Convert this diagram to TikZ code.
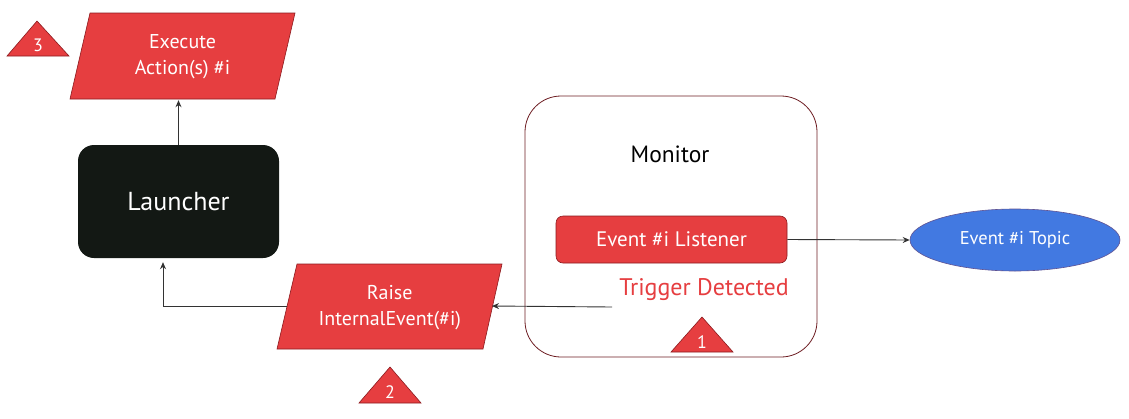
\documentclass[tikz,border=0pt]{standalone}
\usepackage{fontspec}
\setmainfont{PT Sans}
\usetikzlibrary{shapes.geometric,arrows.meta,calc}
\definecolor{rd}{HTML}{E63E40}
\definecolor{rdline}{HTML}{8B1A1E}
\definecolor{bl}{HTML}{4279E1}
\definecolor{dk}{HTML}{131814}
\definecolor{mon}{HTML}{6E1E23}
\definecolor{ln}{HTML}{333333}
\begin{document}
\begin{tikzpicture}[x=1pt,y=-1pt,
  arr/.style={draw=ln, line width=0.9pt, -{Stealth[length=7pt,width=6pt]}},
  para/.style={fill=rd, draw=rdline, line width=0.6pt},
  holder/.style={rectangle, inner sep=0pt, text=white, align=center, font=\fontsize{20}{26}\selectfont},
  tri/.style={fill=rd, draw=rdline, line width=0.6pt},
  trilabel/.style={text=white, font=\fontsize{18}{20}\selectfont, inner sep=0pt}]
\useasboundingbox (0,0) rectangle (1129,418);

% Execute parallelogram
\draw[para] (90,13) -- (295,13) -- (275,99) -- (70,99) -- cycle;
\node[holder, minimum width=205pt, minimum height=86pt] (exec) at (182.5,57) {Execute\\Action(s) \#i};

% triangle 3
\draw[tri] (37,21) -- (69,56) -- (7,56) -- cycle;
\node[trilabel] (t3) at (38,45) {3};

% Launcher
\node[rectangle, rounded corners=16pt, fill=dk, minimum width=201pt, minimum height=113pt, text=white, font=\fontsize{26}{30}\selectfont] (launch) at (178.5,201.5) {Launcher};

% Raise parallelogram
\draw[para] (297,264) -- (502,264) -- (483,349) -- (277,349) -- cycle;
\node[holder, minimum width=206pt, minimum height=85pt] (raise) at (389.75,308) {Raise\\InternalEvent(\#i)};
\coordinate (raiseR) at (492,306);
\coordinate (raiseL) at (287,306);

% triangle 2
\draw[tri] (390,367) -- (421,403) -- (359,403) -- cycle;
\node[trilabel] (t2) at (390,392) {2};

% Monitor
\node[rectangle, rounded corners=36pt, draw=mon, line width=0.8pt, fill=white, minimum width=292pt, minimum height=261pt] (mon) at (671,226.5) {};
\node[font=\fontsize{23.5}{26}\selectfont, text=black] (montxt) at (670,154) {Monitor};
\node[rectangle, rounded corners=7pt, fill=rd, draw=rdline, line width=0.6pt, minimum width=231pt, minimum height=47pt, text=white, font=\fontsize{21}{24}\selectfont] (listen) at (671.5,239.5) {Event \#i Listener};
\node[text=rd, font=\fontsize{24}{26}\selectfont] (trig) at (704,290) {Trigger Detected};
\coordinate (trigout) at (612,307);

% triangle 1
\draw[tri] (702,317) -- (733,352) -- (671,352) -- cycle;
\node[trilabel] (t1) at (702,342) {1};

% Topic
\node[ellipse, fill=bl, draw=rdline!40!bl, line width=0.6pt, minimum width=210pt, minimum height=62pt, inner sep=0pt, text=white, font=\fontsize{18.5}{20}\selectfont] (topic) at (1015,240) {Event \#i Topic};

% connectors
\draw[arr] (launch.north) -- (launch.north |- exec.south);
\draw[arr] (listen.east) -- (topic.west);
\draw[arr] (trigout) -- (raiseR);
\draw[arr] (raiseL) -| ($(launch.south)+(-15.5,4)$);
\end{tikzpicture}
\end{document}
